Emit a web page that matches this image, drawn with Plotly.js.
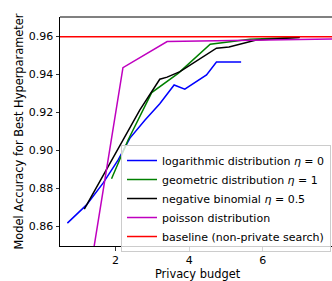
<!DOCTYPE html>
<html><head><meta charset="utf-8">
<script src="https://cdn.plot.ly/plotly-3.0.1.min.js"></script>
<style>html,body{margin:0;padding:0;overflow:hidden;background:#fff}#chart{width:336px;height:281px}</style>
</head><body><div id="chart"></div>
<script>
// Logarithmic distribution eta = 0
const logX = [0.69, 1.21, 1.66, 2.07, 2.39, 2.8, 3.2, 3.59, 3.88, 4.47, 4.74, 5.41];
const logY = [0.8618, 0.8714, 0.8828, 0.895, 0.9065, 0.916, 0.9245, 0.9344, 0.9322, 0.9397, 0.9464, 0.9464];
// Geometric distribution eta = 1
const geoX = [1.89, 2.34, 2.98, 3.7, 4.57, 5.65, 7.0];
const geoY = [0.8851, 0.9055, 0.9304, 0.9405, 0.9558, 0.9584, 0.9595];
// Negative binomial eta = 0.5
const negX = [1.15, 2.21, 2.66, 3.2, 3.4, 3.75, 4.74, 5.08, 5.82, 7.0];
const negY = [0.8692, 0.9055, 0.9213, 0.9374, 0.9385, 0.9414, 0.9537, 0.9544, 0.958, 0.9593];
// Poisson distribution
const poiX = [1.2, 2.2, 3.4, 5.65, 8.5];
const poiY = [0.8236, 0.9435, 0.9572, 0.958, 0.9588];
// Baseline (non-private search)
const baseX = [0, 10];
const baseY = [0.9597, 0.9597];

const names = [
  'logarithmic distribution <i>η</i> = 0',
  'geometric distribution <i>η</i> = 1',
  'negative binomial <i>η</i> = 0.5',
  'poisson distribution',
  'baseline (non-private search)'
];
const colors = ['#0000ff', '#008000', '#000000', '#bf00bf', '#ff0000'];
const xs = [logX, geoX, negX, poiX, baseX];
const ys = [logY, geoY, negY, poiY, baseY];

const traces = xs.map((x, i) => ({
  x: x, y: ys[i], type: 'scatter', mode: 'lines', name: names[i],
  line: {color: colors[i], width: 1.5}
}));

const font = {family: 'DejaVu Sans', size: 11.4, color: '#000'};
const tickfont = {family: 'DejaVu Sans', size: 11, color: '#000'};
const legfont = {family: 'DejaVu Sans', size: 11, color: '#000'};
const layout = {
  width: 336, height: 281,
  margin: {l: 60, r: 1, t: 17, b: 35},
  paper_bgcolor: '#fff', plot_bgcolor: '#fff',
  font: font,
  showlegend: true,
  legend: {
    x: 0.9855, y: 0.441, xanchor: 'right', yanchor: 'top',
    bgcolor: 'rgba(255,255,255,0.8)', bordercolor: '#cccccc', borderwidth: 1,
    font: legfont, itemwidth: 30
  },
  xaxis: {
    range: [0.49, 7.96], tickvals: [2, 4, 6], ticktext: ['2', '4', '6'],
    tickfont: tickfont,
    showgrid: false, zeroline: false, showline: true, linecolor: '#000', linewidth: 1,
    ticks: 'outside', ticklen: 3.5, tickwidth: 0.8, tickcolor: '#000',
    title: {text: 'Privacy budget', font: font, standoff: 4}
  },
  yaxis: {
    range: [0.8498, 0.9701], tickvals: [0.86, 0.88, 0.90, 0.92, 0.94, 0.96],
    ticktext: ['0.86', '0.88', '0.90', '0.92', '0.94', '0.96'],
    tickfont: tickfont,
    showgrid: false, zeroline: false, showline: true, linecolor: '#000', linewidth: 1,
    ticks: 'outside', ticklen: 3.5, tickwidth: 0.8, tickcolor: '#000',
    title: {text: 'Model Accuracy for Best Hyperparameter', font: font, standoff: 2}
  },
  shapes: [{type: 'line', xref: 'paper', yref: 'paper', x0: 0, x1: 1, y0: 1, y1: 1,
            line: {color: '#808080', width: 2}}]
};
Plotly.newPlot('chart', traces, layout, {displayModeBar: false, staticPlot: true});
</script></body></html>
